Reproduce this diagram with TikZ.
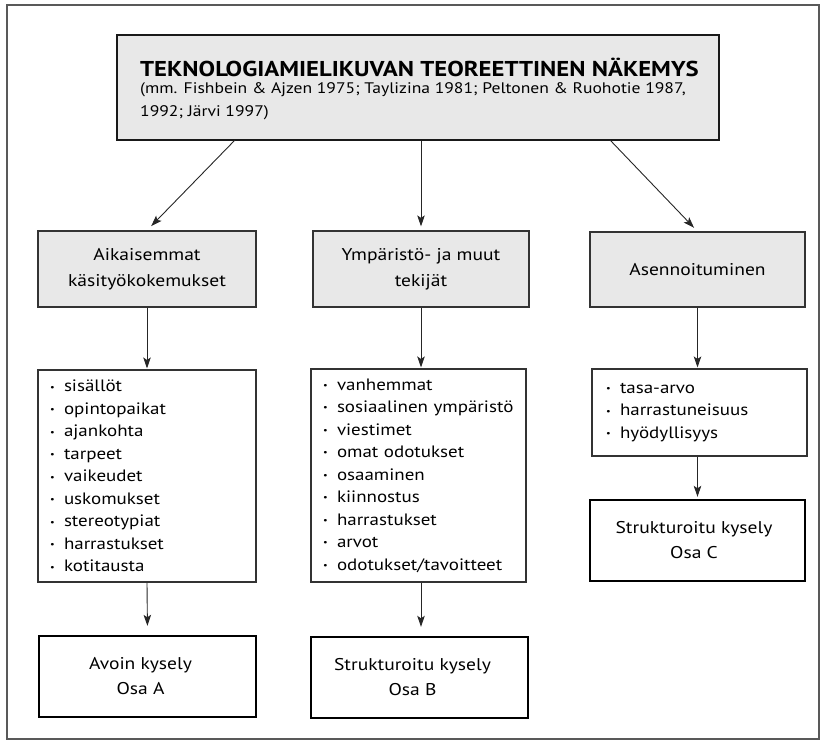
\documentclass[tikz,border=0pt]{standalone}
\usepackage{fontspec}
\setmainfont{PT Sans}[FakeStretch=1.15]
\usetikzlibrary{arrows.meta}
\definecolor{boxgray}{RGB}{232,232,232}
\newcommand{\itm}[1]{\makebox[14pt][l]{\raisebox{0.2ex}{\fontsize{9}{9}\selectfont\textbullet}}#1}
\newcommand{\rpad}[1]{\hspace*{#1}}
\begin{document}
\begin{tikzpicture}[x=1pt,y=-1pt,
  arr/.style={-{Stealth[length=11pt,width=7.5pt,inset=2.5pt]}, line width=0.9pt, black!85},
  topbox/.style={draw=black!90, line width=2.2pt, fill=boxgray, inner sep=0},
  catbox/.style={draw=black!80, line width=1.2pt, fill=boxgray, align=center, inner sep=0, font=\fontsize{17}{26}\selectfont},
  listbox/.style={draw=black!80, line width=1.1pt, align=left, inner ysep=0pt, inner xsep=12pt, font=\fontsize{16.5}{22.5}\selectfont},
  surveybox/.style={draw=black, line width=2.4pt, align=center, inner sep=0, font=\fontsize{17}{25}\selectfont},
]
\useasboundingbox (0,0) rectangle (825,744);
\node[draw=black!65, line width=1.4pt, minimum width=812pt, minimum height=734pt, inner sep=0] (frame) at (413,372) {};

% top box
\node[topbox, minimum width=602pt, minimum height=105pt] (top) at (418,87.5) {};
\node[anchor=west, inner sep=0, font=\bfseries\fontsize{21.5}{24}\selectfont] (toptitle) at (140,67) {TEKNOLOGIAMIELIKUVAN TEOREETTINEN NÄKEMYS};
\node[anchor=north west, align=left, inner sep=0, font=\fontsize{15.3}{23}\selectfont] (topref) at (140,82.5) {(mm. Fishbein \& Ajzen 1975; Taylizina 1981; Peltonen \& Ruohotie 1987,\\1992; Järvi 1997)};

% category boxes
\node[catbox, minimum width=218pt, minimum height=76pt] (c1) at (147,269) {Aikaisemmat\\käsityökokemukset};
\node[catbox, minimum width=216pt, minimum height=76pt] (c2) at (421,269) {Ympäristö- ja muut\\tekijät};
\node[catbox, minimum width=215pt, minimum height=75pt] (c3) at (697.5,269.5) {Asennoituminen};

% list boxes
\node[listbox, text width=194pt, minimum width=218pt, minimum height=212pt] (l1) at (147,476) {\itm{sisällöt}\\\itm{opintopaikat}\\\itm{ajankohta}\\\itm{tarpeet}\\\itm{vaikeudet}\\\itm{uskomukset}\\\itm{stereotypiat}\\\itm{harrastukset}\\\itm{kotitausta}};
\node[listbox, text width=191pt, minimum width=215pt, minimum height=213pt] (l2) at (418.5,475.5) {\itm{vanhemmat}\\\itm{sosiaalinen ympäristö}\\\itm{viestimet}\\\itm{omat odotukset}\\\itm{osaaminen}\\\itm{kiinnostus}\\\itm{harrastukset}\\\itm{arvot}\\\itm{odotukset/tavoitteet}};
\node[listbox, inner xsep=14pt, text width=187pt, minimum width=215pt, minimum height=87pt] (l3) at (699.5,412.5) {\itm{tasa-arvo}\\\itm{harrastuneisuus}\\\itm{hyödyllisyys}};

% survey boxes
\node[surveybox, minimum width=217pt, minimum height=81pt] (s1) at (147.5,676.5) {Avoin kysely\rpad{14pt}\\Osa A\rpad{14pt}};
\node[surveybox, minimum width=217pt, minimum height=81pt] (s2) at (419.5,677.5) {Strukturoitu kysely\rpad{14pt}\\Osa B\rpad{14pt}};
\node[surveybox, minimum width=215pt, minimum height=81pt] (s3) at (697.5,540.5) {Strukturoitu kysely\rpad{7pt}\\Osa C\rpad{7pt}};

% connectors
\coordinate (t1) at (235,140);
\coordinate (t3) at (610,140);
\draw[arr, shorten >=6pt] (t1) -- (c1.north);
\draw[arr, shorten >=4pt] (c2.north |- top.south) -- (c2.north);
\draw[arr, shorten >=5pt] (t3) -- (c3.north);
\draw[arr, shorten >=1pt] (c1.south) -- (l1.north);
\draw[arr, shorten >=1pt] (c2.south) -- (c2.south |- l2.north);
\draw[arr, shorten >=1pt] (c3.south) -- (c3.south |- l3.north);
\draw[arr, shorten >=9pt] (l1.south) -- (s1.north);
\draw[arr, shorten >=9pt] (c2.south |- l2.south) -- (c2.south |- s2.north);
\draw[arr, shorten >=2pt] (c3.south |- l3.south) -- (s3.north);
\end{tikzpicture}
\end{document}
